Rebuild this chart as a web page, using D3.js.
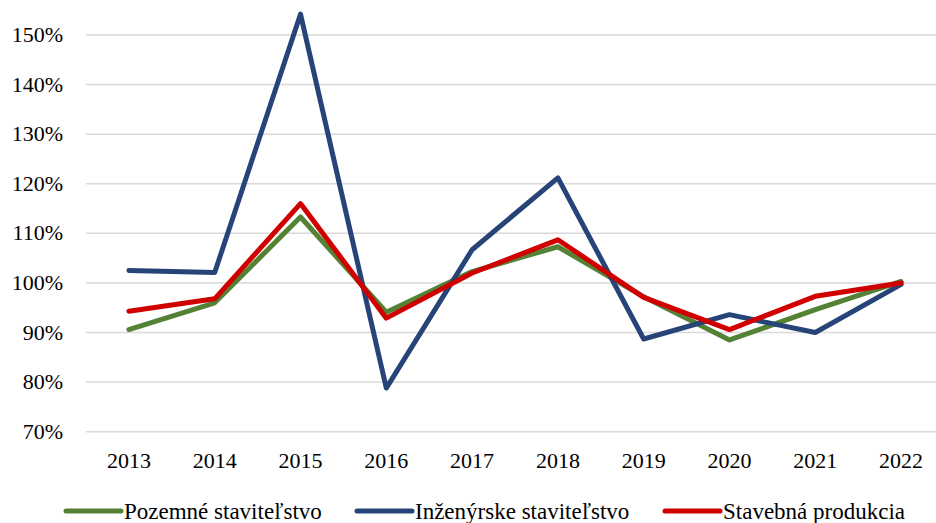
<!DOCTYPE html>
<html>
<head>
<meta charset="utf-8">
<script src="https://cdn.jsdelivr.net/npm/d3@7"></script>
<style>
  body { margin: 0; background: #fff; }
</style>
</head>
<body>
<div id="chart"></div>
<script>
const years = ['2013', '2014', '2015', '2016', '2017', '2018', '2019', '2020', '2021', '2022'];
const pozemne = [90.6, 96.0, 113.3, 94.1, 102.3, 107.3, 97.2, 88.5, 94.6, 100.3];
const inzinierske = [102.5, 102.1, 154.2, 78.8, 106.7, 121.2, 88.7, 93.6, 90.0, 99.7];
const stavebna = [94.3, 96.8, 116.0, 92.9, 102.0, 108.7, 97.1, 90.6, 97.3, 100.0];
const yTicks = [70, 80, 90, 100, 110, 120, 130, 140, 150];

const FONT = "'Liberation Serif', 'DejaVu Serif', 'Times New Roman', serif";

const series = [
  { name: 'Pozemné staviteľstvo', values: pozemne, color: '#548235' },
  { name: 'Inženýrske staviteľstvo', values: inzinierske, color: '#264478' },
  { name: 'Stavebná produkcia', values: stavebna, color: '#d00000' }
];

const W = 936, H = 523;
const svg = d3.select('#chart').append('svg')
  .attr('width', W)
  .attr('height', H)
  .attr('font-family', FONT)
  .style('display', 'block');

const x = d3.scaleBand()
  .domain(years)
  .range([86, 944]);

const y = d3.scaleLinear()
  .domain([70, 150])
  .range([431.7, 35]);

// gridlines
svg.append('g')
  .selectAll('line')
  .data(yTicks)
  .join('line')
  .attr('x1', 86)
  .attr('x2', 944)
  .attr('y1', d => y(d))
  .attr('y2', d => y(d))
  .attr('stroke', '#d9d9d9')
  .attr('stroke-width', 1.5);

// y labels
svg.append('g')
  .selectAll('text')
  .data(yTicks)
  .join('text')
  .attr('x', 63)
  .attr('y', d => y(d) + 7)
  .attr('text-anchor', 'end')
  .attr('font-family', FONT)
  .attr('font-size', 22)
  .attr('fill', '#000')
  .text(d => d + '%');

// x labels
svg.append('g')
  .selectAll('text')
  .data(years)
  .join('text')
  .attr('x', d => x(d) + x.bandwidth() / 2)
  .attr('y', 468)
  .attr('text-anchor', 'middle')
  .attr('font-family', FONT)
  .attr('font-size', 22)
  .attr('fill', '#000')
  .text(d => d);

const line = d3.line()
  .x((d, i) => x(years[i]) + x.bandwidth() / 2)
  .y(d => y(d));

svg.append('g')
  .selectAll('path')
  .data(series)
  .join('path')
  .attr('d', d => line(d.values))
  .attr('fill', 'none')
  .attr('stroke', d => d.color)
  .attr('stroke-width', 5)
  .attr('stroke-linejoin', 'round')
  .attr('stroke-linecap', 'round');

// legend
const legendX = [66, 357, 665];
const legend = svg.append('g')
  .selectAll('g')
  .data(series)
  .join('g')
  .attr('transform', (d, i) => `translate(${legendX[i]},511)`);

legend.append('line')
  .attr('x1', 0)
  .attr('x2', 55)
  .attr('stroke', d => d.color)
  .attr('stroke-width', 5)
  .attr('stroke-linecap', 'round');

legend.append('text')
  .attr('x', 58)
  .attr('y', 8)
  .attr('font-family', FONT)
  .attr('font-size', 23)
  .attr('fill', '#000')
  .text(d => d.name);
</script>
</body>
</html>
